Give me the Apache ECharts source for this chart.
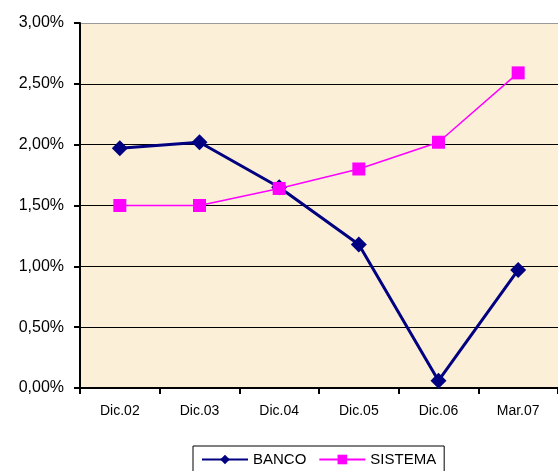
<!DOCTYPE html>
<html><head><meta charset="utf-8">
<script src="https://cdn.jsdelivr.net/npm/echarts@6/dist/echarts.min.js"></script>
<style>html,body{margin:0;padding:0;background:#fff}#c{width:558px;height:471px}</style>
</head><body><div id="c"></div>
<script>
const categories = ['Dic.02','Dic.03','Dic.04','Dic.05','Dic.06','Mar.07'];
const banco = [1.97, 2.02, 1.65, 1.18, 0.06, 0.97];
const sistema = [1.50, 1.50, 1.64, 1.80, 2.02, 2.59];
const yTicks = [0, 0.5, 1, 1.5, 2, 2.5, 3];

const chart = echarts.init(document.getElementById('c'));
chart.setOption({
  animation: false,
  backgroundColor: '#fff',
  grid: {left: 80, right: -2, top: 23, bottom: 83, show: true, backgroundColor: '#FCEFD8', borderWidth: 0},
  xAxis: {
    type: 'category', data: categories, boundaryGap: true,
    axisLine: {lineStyle: {color: '#000', width: 2}},
    axisTick: {show: true, length: 6, lineStyle: {color: '#000', width: 2}},
    axisLabel: {color: '#000', fontFamily: 'Liberation Sans, Arial', fontSize: 14, margin: 16},
    splitLine: {show: false}
  },
  yAxis: {
    type: 'value', min: 0, max: 3, interval: 0.5,
    axisLine: {show: true, lineStyle: {color: '#000', width: 2}},
    axisTick: {show: true, length: 6, lineStyle: {color: '#000', width: 2}},
    axisLabel: {color: '#000', fontFamily: 'Liberation Sans, Arial', fontSize: 16, margin: 16,
      formatter: v => v.toFixed(2).replace('.', ',') + '%'},
    splitLine: {show: true, lineStyle: {color: ['#000','#000','#000','#000','#000','#000','#999'], width: 1}}
  },
  legend: {
    bottom: -8, left: 193,
    itemWidth: 46, itemHeight: 12, itemGap: 12,
    borderColor: '#000', borderWidth: 1, padding: [6, 8, 12, 8],
    textStyle: {color: '#000', fontFamily: 'Liberation Sans, Arial', fontSize: 15},
    data: ['BANCO', 'SISTEMA']
  },
  series: [
    {name: 'BANCO', type: 'line', data: banco, symbol: 'diamond', symbolSize: 16,
     lineStyle: {color: '#000080', width: 3}, itemStyle: {color: '#000080'}, z: 3},
    {name: 'SISTEMA', type: 'line', data: sistema, symbol: 'rect', symbolSize: 13,
     lineStyle: {color: '#FF00FF', width: 1.5}, itemStyle: {color: '#FF00FF'}, z: 4}
  ]
});
</script></body></html>
